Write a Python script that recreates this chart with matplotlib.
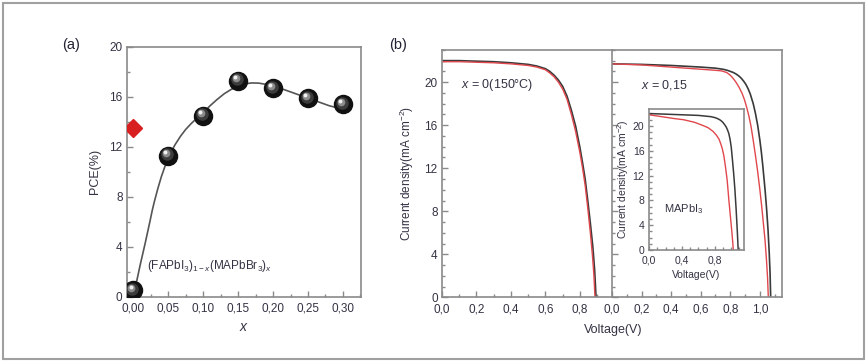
import matplotlib
matplotlib.use('Agg')
import matplotlib.pyplot as plt
import matplotlib.transforms as mtransforms
from matplotlib.patches import Rectangle
from matplotlib.ticker import MultipleLocator, FuncFormatter

plt.rcParams['font.family'] = ['Liberation Sans', 'DejaVu Sans']
plt.rcParams['mathtext.fontset'] = 'custom'
plt.rcParams['mathtext.rm'] = 'Liberation Sans'
plt.rcParams['mathtext.it'] = 'Liberation Sans:italic'

# ---- data: panel (a) PCE vs x
x_comp = [0.00, 0.05, 0.10, 0.15, 0.20, 0.25, 0.30]
pce = [0.5, 11.3, 14.5, 17.3, 16.7, 15.9, 15.4]
mapbi3_x = [0.0]
mapbi3_pce = [13.5]
fit_x = [0.0, 0.0025, 0.005, 0.0075, 0.01, 0.0135, 0.017, 0.0205, 0.024, 0.027, 0.03, 0.035,
         0.04, 0.045, 0.05, 0.055, 0.06, 0.0675, 0.075, 0.0825, 0.09, 0.10, 0.11, 0.12, 0.13,
         0.14, 0.15, 0.16, 0.17, 0.18, 0.19, 0.20, 0.21, 0.22, 0.235, 0.25, 0.265, 0.28, 0.29, 0.30]
fit_y = [0.4, 0.85, 1.3, 1.95, 2.6, 3.45, 4.3, 5.2, 6.1, 6.9, 7.6, 8.65,
         9.6, 10.4, 11.1, 11.7, 12.2, 12.85, 13.4, 13.85, 14.25, 14.75, 15.3, 15.8, 16.25,
         16.6, 16.88, 17.05, 17.12, 17.1, 17.0, 16.85, 16.7, 16.5, 16.2, 15.9, 15.6, 15.3, 15.15, 15.0]

# ---- data: panel (b) J-V curves, x = 0 (150 C)
v0_blk = [0, 0.1, 0.2, 0.3, 0.4, 0.5, 0.55, 0.6, 0.625, 0.65, 0.675, 0.7, 0.725, 0.75, 0.775,
          0.8, 0.815, 0.83, 0.845, 0.86, 0.875, 0.885, 0.893]
j0_blk = [22.0, 22.0, 21.95, 21.9, 21.8, 21.65, 21.5, 21.25, 21.0, 20.65, 20.2, 19.6, 18.7, 17.4, 15.9,
          13.9, 12.5, 11.0, 9.0, 6.9, 4.6, 2.5, 0]
v0_red = [0, 0.1, 0.2, 0.3, 0.4, 0.5, 0.55, 0.6, 0.625, 0.65, 0.675, 0.7, 0.725, 0.75, 0.775,
          0.8, 0.815, 0.83, 0.845, 0.86, 0.872, 0.88, 0.887]
j0_red = [21.9, 21.9, 21.85, 21.8, 21.7, 21.55, 21.4, 21.15, 20.85, 20.5, 20.0, 19.35, 18.4, 17.0, 15.4,
          13.4, 12.0, 10.4, 8.3, 6.0, 3.9, 2.2, 0]

# x = 0.15
v15_blk = [0, 0.2, 0.4, 0.6, 0.7, 0.75, 0.78, 0.8, 0.82, 0.84, 0.86, 0.875, 0.89, 0.905, 0.92,
           0.935, 0.955, 0.97, 0.985, 1.0, 1.01, 1.02, 1.035, 1.045, 1.055, 1.063, 1.069, 1.073]
j15_blk = [21.7, 21.65, 21.55, 21.4, 21.3, 21.2, 21.1, 21.0, 20.9, 20.75, 20.55, 20.35, 20.1, 19.8, 19.4,
           18.9, 18.0, 17.1, 16.0, 14.6, 13.5, 12.2, 10.0, 8.3, 6.3, 4.2, 2.2, 0]
v15_red = [0, 0.2, 0.4, 0.6, 0.7, 0.74, 0.775, 0.795, 0.81, 0.825, 0.843, 0.86, 0.88, 0.895, 0.91,
           0.925, 0.94, 0.955, 0.97, 0.985, 1.0, 1.012, 1.025, 1.035, 1.045, 1.052, 1.057]
j15_red = [21.7, 21.6, 21.4, 21.2, 21.1, 21.05, 20.9, 20.7, 20.5, 20.25, 19.9, 19.5, 18.95, 18.4, 17.7,
           16.9, 15.9, 14.6, 13.2, 11.7, 10.0, 8.5, 6.7, 5.3, 3.4, 1.8, 0]

# inset: MAPbI3
vm_blk = [0, 0.2, 0.4, 0.6, 0.75, 0.8, 0.83, 0.86, 0.88, 0.9, 0.92, 0.94, 0.955, 0.97, 0.985,
          1.0, 1.015, 1.03, 1.045, 1.06, 1.075, 1.085]
jm_blk = [22.0, 21.9, 21.8, 21.7, 21.5, 21.35, 21.2, 21.0, 20.8, 20.55, 20.2, 19.8, 19.35, 18.8, 17.9,
          16.6, 14.5, 12.3, 9.7, 6.5, 2.8, 0]
vm_red = [0, 0.1, 0.2, 0.3, 0.42, 0.55, 0.65, 0.72, 0.78, 0.82, 0.85, 0.87, 0.89, 0.91, 0.93,
          0.95, 0.96, 0.97, 0.98, 0.99, 1.0, 1.01, 1.02, 1.025]
jm_red = [21.8, 21.6, 21.4, 21.2, 21.0, 20.6, 20.1, 19.7, 19.1, 18.5, 17.9, 17.2, 16.4, 15.2, 13.4,
          11.3, 9.8, 8.2, 6.8, 5.4, 4.0, 2.6, 1.0, 0]

TXT = '#333344'
SPINE = '#8a8a8a'
RED = '#e0474c'
BLK = '#3a3a3a'

comma2 = FuncFormatter(lambda v, p: ('%.2f' % v).replace('.', ','))
comma1 = FuncFormatter(lambda v, p: ('%.1f' % v).replace('.', ','))


def style(ax, fs=8.5):
    for s in ax.spines.values():
        s.set_color(SPINE)
        s.set_linewidth(1.2)
    ax.tick_params(which='both', direction='in', color=SPINE, labelcolor=TXT,
                   labelsize=fs, top=False, right=False)
    ax.tick_params(axis='x', pad=4.5)
    ax.tick_params(axis='y', pad=3)
    ax.tick_params(which='major', length=4, width=1)
    ax.tick_params(which='minor', length=2.5, width=1)


fig = plt.figure(figsize=(8.68, 3.64), dpi=100)
fig.patches.append(Rectangle((3 / 868, 5 / 364), 861 / 868, 356 / 364, transform=fig.transFigure,
                             fill=False, edgecolor='#a0a0a0', linewidth=1.5))

# ---------------- panel (a)
ax = fig.add_axes([0.146, 0.185, 0.270, 0.686])
ax.plot(fit_x, fit_y, color='#555555', lw=1.2, zorder=2)
ax.plot(mapbi3_x, mapbi3_pce, 'D', color='#d82020', markersize=9, zorder=3)
ax.plot(x_comp, pce, 'o', color='#111111', markersize=13, zorder=3)
for dx, dy, ms, c in [(-1.2, 1.5, 9, '#3c3c3c'), (-2.2, 2.6, 5.5, '#8c8c8c'), (-2.8, 3.3, 2.8, '#f0f0f0')]:
    tr = mtransforms.offset_copy(ax.transData, fig=fig, x=dx, y=dy, units='dots')
    ax.plot(x_comp, pce, 'o', color=c, markersize=ms, markeredgewidth=0, transform=tr, zorder=4)
ax.set_xlim(-0.0095, 0.326)
ax.set_ylim(0, 20)
ax.xaxis.set_major_locator(MultipleLocator(0.05))
ax.xaxis.set_minor_locator(MultipleLocator(0.025))
ax.xaxis.set_major_formatter(comma2)
ax.yaxis.set_major_locator(MultipleLocator(4))
ax.yaxis.set_minor_locator(MultipleLocator(2))
style(ax)
ax.set_ylabel('PCE(%)', color=TXT, fontsize=9, labelpad=6)
ax.set_xlabel('$x$', color=TXT, fontsize=10, labelpad=4)
ax.text(0.085, 0.11, r'(FAPbI$_3$)$_{1-x}$(MAPbBr$_3$)$_x$', transform=ax.transAxes,
        color=TXT, fontsize=8.5)
fig.text(0.071, 0.865, '(a)', color='#222233', fontsize=10.5)

# ---------------- panel (b) left
bl = fig.add_axes([0.509, 0.183, 0.196, 0.680])
bl.plot(v0_blk, j0_blk, color=BLK, lw=1.2)
bl.plot(v0_red, j0_red, color=RED, lw=1.0)
bl.set_xlim(0, 0.985)
bl.set_ylim(0, 23)
bl.xaxis.set_minor_locator(MultipleLocator(0.1))
bl.set_xticks([0, 0.2, 0.4, 0.6, 0.8])
bl.xaxis.set_major_formatter(comma1)
bl.yaxis.set_major_locator(MultipleLocator(4))
bl.yaxis.set_minor_locator(MultipleLocator(1))
style(bl)
bl.spines['right'].set_visible(False)
bl.set_ylabel('Current density(mA cm$^{-2}$)', color=TXT, fontsize=8.5, labelpad=6)
bl.text(0.11, 0.845, r'$x$ = 0(150$\degree$C)', transform=bl.transAxes, color=TXT, fontsize=9)
fig.text(0.448, 0.865, '(b)', color='#222233', fontsize=10.5)

# ---------------- panel (b) right
br = fig.add_axes([0.705, 0.183, 0.196, 0.680])
br.plot(v15_blk, j15_blk, color=BLK, lw=1.2)
br.plot(v15_red, j15_red, color=RED, lw=1.0)
br.set_xlim(0, 1.15)
br.set_ylim(0, 23)
br.xaxis.set_major_locator(MultipleLocator(0.2))
br.xaxis.set_minor_locator(MultipleLocator(0.1))
br.xaxis.set_major_formatter(comma1)
br.yaxis.set_major_locator(MultipleLocator(4))
br.yaxis.set_minor_locator(MultipleLocator(1))
style(br)
br.tick_params(axis='y', labelleft=False)
br.text(0.17, 0.845, r'$x$ = 0,15', transform=br.transAxes, color=TXT, fontsize=9)
fig.text(0.706, 0.085, 'Voltage(V)', color=TXT, fontsize=9, ha='center')

# ---------------- inset
ins = fig.add_axes([0.748, 0.313, 0.1086, 0.387])
ins.plot(vm_blk, jm_blk, color=BLK, lw=1.1)
ins.plot(vm_red, jm_red, color=RED, lw=1.0)
ins.set_xlim(0, 1.15)
ins.set_ylim(0, 22.7)
ins.set_xticks([0, 0.4, 0.8])
ins.xaxis.set_minor_locator(MultipleLocator(0.1))
ins.xaxis.set_major_formatter(comma1)
ins.yaxis.set_major_locator(MultipleLocator(4))
ins.yaxis.set_minor_locator(MultipleLocator(1))
style(ins, fs=7.5)
ins.tick_params(which='major', length=3)
ins.tick_params(which='minor', length=2)
ins.tick_params(axis='x', pad=4)
ins.tick_params(axis='y', pad=3.5)
ins.set_xlabel('Voltage(V)', color=TXT, fontsize=7.5, labelpad=3)
ins.set_ylabel('Current density(mA cm$^{-2}$)', color=TXT, fontsize=7.5, labelpad=1)
ins.text(0.16, 0.27, 'MAPbI$_3$', transform=ins.transAxes, color=TXT, fontsize=8)

fig.savefig('out.png', dpi=100, facecolor='white')
